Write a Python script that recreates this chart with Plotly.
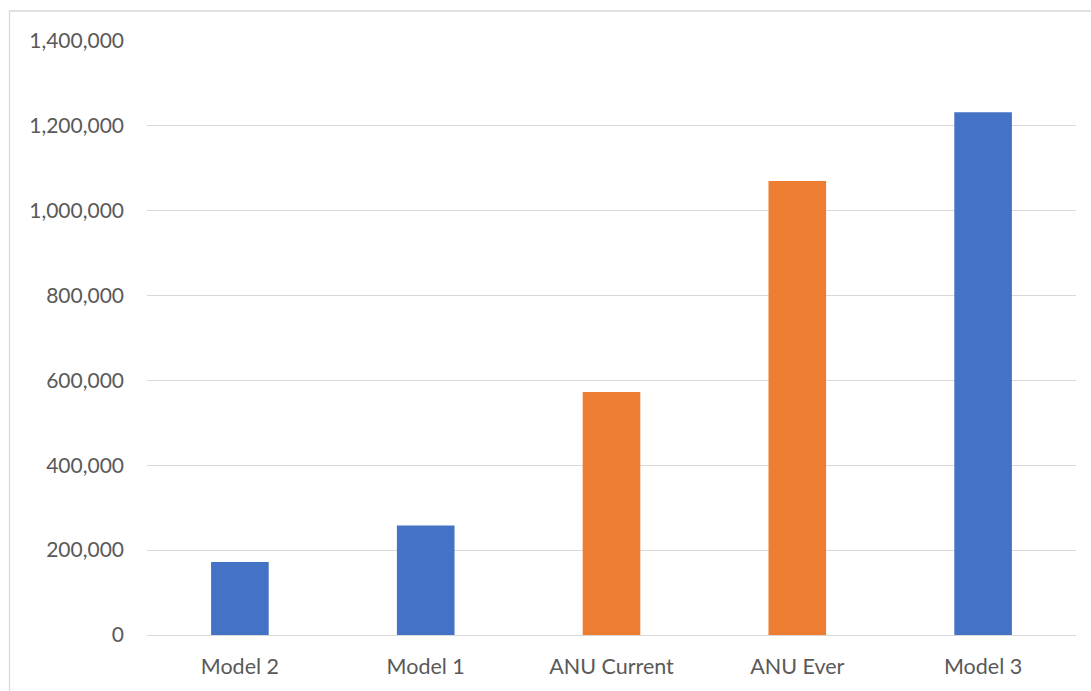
import plotly.graph_objects as go

categories = ["Model 2", "Model 1", "ANU Current", "ANU Ever", "Model 3"]
values = [172000, 258000, 573000, 1070000, 1232000]
groups = ["model", "model", "anu", "anu", "model"]

group_colors = {"model": "#4472C4", "anu": "#ED7D31"}
bar_colors = [group_colors[g] for g in groups]

fig = go.Figure()
fig.add_trace(go.Bar(
    x=categories, y=values,
    marker=dict(color=bar_colors, line=dict(width=0)),
    showlegend=False,
))

font_family = "Lato, 'Open Sans', sans-serif"
fig.update_layout(
    width=1091, height=691,
    margin=dict(l=147, r=15, t=41, b=56),
    paper_bgcolor="white", plot_bgcolor="white",
    bargap=0.69,
    font=dict(family=font_family, color="#595959", size=21),
    xaxis=dict(showgrid=False, showline=False, ticks="",
               ticklabelstandoff=16,
               tickfont=dict(size=21.5, color="#595959")),
    yaxis=dict(range=[0, 1400000], dtick=200000, tickformat=",",
               showgrid=True, gridcolor="#D9D9D9", gridwidth=1.3,
               zeroline=True, zerolinecolor="#D9D9D9", zerolinewidth=1.3,
               showline=False, ticks="", ticklabelstandoff=22,
               tickfont=dict(size=21, color="#595959")),
    shapes=[dict(type="rect", xref="paper", yref="paper",
                 x0=-0.148, x1=1.05, y0=-0.2, y1=1.0505,
                 line=dict(color="#D9D9D9", width=1.3), layer="below")],
)

fig.write_html("out.html")
